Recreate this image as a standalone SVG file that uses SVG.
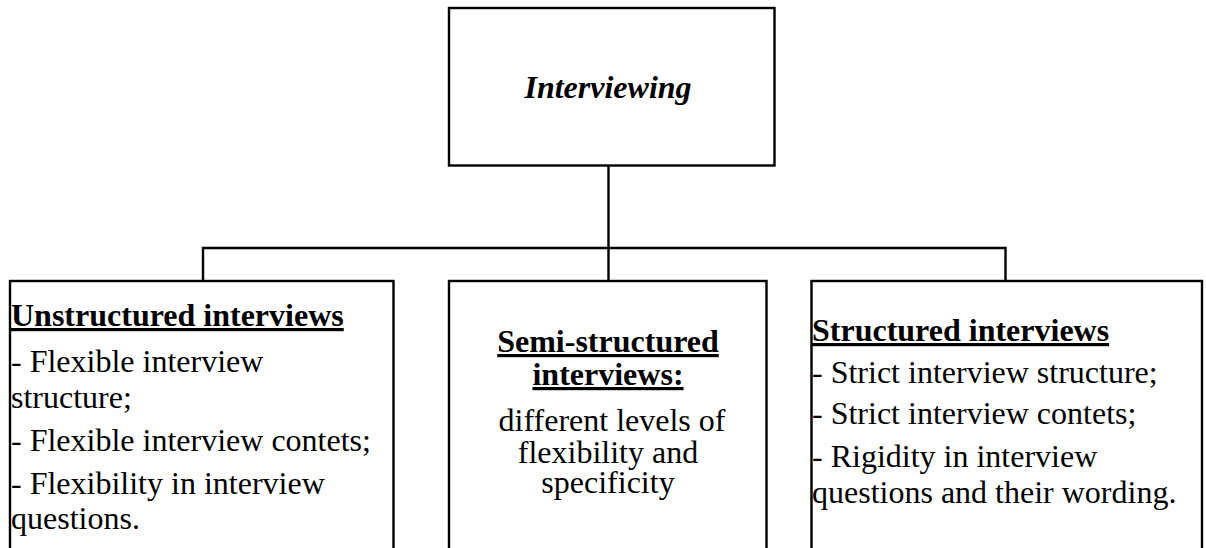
<svg xmlns="http://www.w3.org/2000/svg" width="1206" height="548" viewBox="0 0 1206 548">
  <style>
    .box { fill: #ffffff; stroke: #000000; stroke-width: 2.4; }
    .wire { fill: none; stroke: #000000; stroke-width: 2.4; }
    text { font-family: 'Liberation Serif', 'Times New Roman', serif; font-size: 32px; fill: #000000; }
    .head { font-weight: bold; text-decoration: underline; }
    .title { font-weight: bold; font-style: italic; }
    .mid { text-anchor: middle; }
  </style>

  <rect width="1206" height="548" fill="#ffffff"/>

  <!-- tree connectors: trunk, crossbar and the three drops -->
  <g id="connectors">
    <path class="wire" d="M608.5 165.5 V248"/>
    <path class="wire" d="M203 281 V248 H1005.5 V281"/>
    <path class="wire" d="M608.5 248 V281"/>
  </g>

  <!-- root -->
  <g id="interviewing">
    <rect class="box" x="449" y="8" width="325.5" height="157.5"/>
    <text class="title mid" x="608" y="98">Interviewing</text>
  </g>

  <!-- left branch -->
  <g id="unstructured">
    <rect class="box" x="10" y="281" width="383.5" height="300"/>
    <text class="head" x="11" y="326">Unstructured interviews</text>
    <text x="11" y="372">- Flexible interview</text>
    <text x="11" y="408">structure;</text>
    <text x="11" y="451">- Flexible interview contets;</text>
    <text x="11" y="494">- Flexibility in interview</text>
    <text x="11" y="529">questions.</text>
  </g>

  <!-- middle branch -->
  <g id="semi-structured">
    <rect class="box" x="449" y="281" width="317.5" height="300"/>
    <text class="head mid" x="608" y="352">Semi-structured</text>
    <text class="head mid" x="608" y="385">interviews:</text>
    <text class="mid" x="612" y="431">different levels of</text>
    <text class="mid" x="608" y="463">flexibility and</text>
    <text class="mid" x="608" y="493">specificity</text>
  </g>

  <!-- right branch -->
  <g id="structured">
    <rect class="box" x="811.5" y="281" width="390.5" height="300"/>
    <text class="head" x="812" y="341">Structured interviews</text>
    <text x="812" y="383">- Strict interview structure;</text>
    <text x="812" y="424">- Strict interview contets;</text>
    <text x="812" y="467">- Rigidity in interview</text>
    <text x="812" y="503">questions and their wording.</text>
  </g>
</svg>
